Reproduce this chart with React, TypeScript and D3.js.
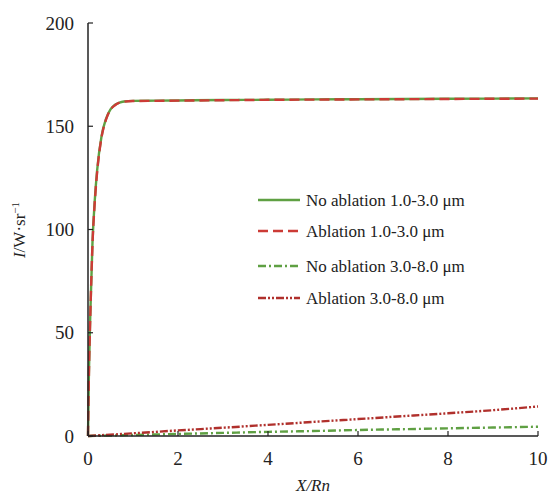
import React from "react";
import * as d3 from "d3";

const xs = [0, 0.02, 0.05, 0.1, 0.15, 0.2, 0.3, 0.4, 0.5, 0.6, 0.7, 0.8, 1.0, 1.5, 2, 3, 4, 5, 6, 7, 8, 9, 10];
const noAbl13 = [0, 30, 58, 94, 114, 128, 145, 153.6, 158.2, 160.4, 161.5, 162, 162.3, 162.4, 162.5, 162.7, 162.8, 163, 163.1, 163.2, 163.3, 163.4, 163.5];
const abl13 = [0, 29, 57, 93, 113, 127, 144.5, 153.2, 158, 160.2, 161.4, 161.9, 162.2, 162.3, 162.4, 162.6, 162.8, 162.9, 163, 163.1, 163.2, 163.3, 163.4];
const xsLow = [0, 1, 2, 3, 4, 5, 6, 7, 8, 9, 10];
const noAbl38 = [0, 0.5, 1.0, 1.5, 2.0, 2.4, 2.9, 3.3, 3.7, 4.1, 4.5];
const abl38 = [0, 1.3, 2.7, 4.0, 5.4, 6.8, 8.2, 9.6, 11.0, 12.5, 14.3];
const xTicks = [0, 2, 4, 6, 8, 10];
const yTicks = [0, 50, 100, 150, 200];
const legendLabels = ["No ablation 1.0-3.0 μm", "Ablation 1.0-3.0 μm", "No ablation 3.0-8.0 μm", "Ablation 3.0-8.0 μm"];

const GREEN = "#5fa043";
const RED = "#cc3b36";
const DRED = "#b0302c";
const FONT = "\"Liberation Serif\", \"Times New Roman\", serif";

export default function App() {
  const x = d3.scaleLinear().domain([0, 10]).range([88, 538]);
  const y = d3.scaleLinear().domain([0, 200]).range([436, 23]);
  const line = d3.line<[number, number]>().x((d) => x(d[0])).y((d) => y(d[1])).curve(d3.curveMonotoneX);
  const mk = (xv: number[], yv: number[]) => line(xv.map((v, i) => [v, yv[i]]) as [number, number][]) || "";
  const series = [
    { d: mk(xs, noAbl13), color: GREEN, dash: "" },
    { d: mk(xs, abl13), color: RED, dash: "10,5" },
    { d: mk(xsLow, noAbl38), color: GREEN, dash: "8,3,2,3" },
    { d: mk(xsLow, abl38), color: DRED, dash: "8,2,2,2,2,2" },
  ];
  const ts = { fontFamily: FONT, fill: "#222" } as React.CSSProperties;
  const legY = [200, 231, 266, 298];
  return (
    <svg width={554} height={497} style={{ position: "absolute", left: 0, top: 0, background: "#fff" }}>
      {series.map((s, i) => (
        <path key={i} d={s.d} fill="none" stroke={s.color} strokeWidth={2.4} strokeDasharray={s.dash} />
      ))}
      <line x1={88} x2={88} y1={y(200)} y2={y(0)} stroke="#222" strokeWidth={1.5} />
      <line x1={88} x2={538} y1={y(0)} y2={y(0)} stroke="#222" strokeWidth={1.5} />
      {yTicks.map((t) => (
        <g key={t}>
          <line x1={88} x2={93} y1={y(t)} y2={y(t)} stroke="#222" strokeWidth={1.2} />
          <text x={74} y={y(t)} dy="0.35em" textAnchor="end" fontSize={19} style={ts}>{t}</text>
        </g>
      ))}
      {xTicks.map((t) => (
        <g key={t}>
          <line x1={x(t)} x2={x(t)} y1={y(0)} y2={y(0) - 5} stroke="#222" strokeWidth={1.2} />
          <text x={x(t)} y={y(0) + 29} textAnchor="middle" fontSize={19} style={ts}>{t}</text>
        </g>
      ))}
      <text x={313} y={491} textAnchor="middle" fontSize={17} fontStyle="italic" style={ts}>X/Rn</text>
      <text transform="translate(25,230) rotate(-90)" textAnchor="middle" fontSize={17} style={ts}>
        <tspan fontStyle="italic">I</tspan>
        <tspan>/W·sr</tspan>
        <tspan fontSize={11} dy={-6}>−1</tspan>
      </text>
      {legendLabels.map((l, i) => (
        <g key={l}>
          <line x1={258} x2={300} y1={legY[i]} y2={legY[i]} stroke={series[i].color} strokeWidth={2.4} strokeDasharray={series[i].dash} />
          <text x={306} y={legY[i]} dy="0.35em" fontSize={17} style={ts}>{l}</text>
        </g>
      ))}
    </svg>
  );
}
